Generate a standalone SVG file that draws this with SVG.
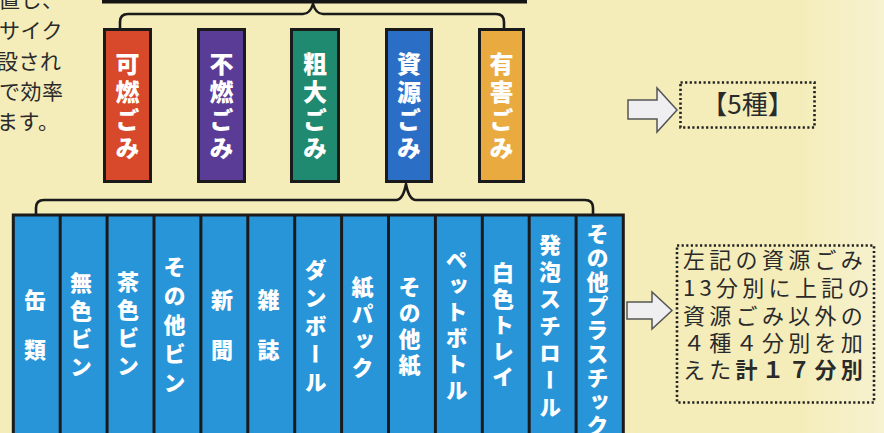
<svg xmlns="http://www.w3.org/2000/svg" width="884" height="433" viewBox="0 0 884 433">
<defs>
<linearGradient id="edge" x1="0" y1="0" x2="1" y2="0">
<stop offset="0" stop-color="#F8F3D6" stop-opacity="0"/>
<stop offset="1" stop-color="#F8F3D6" stop-opacity="0.8"/>
</linearGradient>
</defs>
<style>
.bg{fill:#F4EDBA}
.box{stroke:#1a1a1a;stroke-width:3}
.vt{font-family:"Noto Sans CJK JP","Noto Sans CJK SC",sans-serif;font-weight:900;fill:#ffffff;writing-mode:vertical-rl;text-anchor:start}
.top{font-size:24px;letter-spacing:4px}
.bot{font-size:22px}
.brace{fill:none;stroke:#1a1a1a;stroke-width:2.6;stroke-linejoin:round}
.arrow{fill:#EFEFF1;stroke:#555;stroke-width:1.5;stroke-linejoin:miter}
.dot{fill:none;stroke:#222;stroke-width:2.6;stroke-dasharray:2.2 2.4}
.txt{font-family:"Noto Sans CJK JP","Noto Sans CJK SC",sans-serif;fill:#2a2a2a}
</style>
<rect class="bg" x="0" y="0" width="884" height="433"/>
<rect x="800" y="0" width="84" height="433" fill="url(#edge)"/>

<g id="intro-text" class="txt" font-size="21" letter-spacing="0.5">
<text x="-1" y="7">置し、</text>
<text x="-1" y="38">サイク</text>
<text x="-3" y="69">設され</text>
<text x="-1" y="99">で効率</text>
<text x="-3" y="129">ます。</text>
</g>

<g id="header-bar"><rect x="102" y="-6" width="425" height="9.5" fill="#141414"/></g>

<g id="connectors">
<path class="brace" d="M120,29 V22 Q120,14 128,14 H303 Q310,14 313,4 Q316,14 323,14 H496 Q504,14 504,22 V29"/>
<path class="brace" d="M36,216 V208 Q36,200 44,200 H396 Q403,200 406,184 Q409,200 416,200 H585 Q593,200 593,208 V216"/>
<polygon class="arrow" points="628,100 657,100 657,88 677,110 657,132 657,119 628,119"/>
<polygon class="arrow" points="627,302 652,302 652,292 672,310.5 652,329 652,319 627,319"/>
</g>

<g id="kanen"><rect class="box" x="104.5" y="29.5" width="46" height="152" fill="#D8482A"/><text class="vt top" x="127.5" y="52">可燃ごみ</text></g>
<g id="funen"><rect class="box" x="198.5" y="29.5" width="46" height="152" fill="#5A3C96"/><text class="vt top" x="221.5" y="52">不燃ごみ</text></g>
<g id="sodai"><rect class="box" x="291.5" y="29.5" width="47" height="152" fill="#1F8A70"/><text class="vt top" x="315" y="52">粗大ごみ</text></g>
<g id="shigen"><rect class="box" x="386.5" y="29.5" width="45" height="152" fill="#2B6EC6"/><text class="vt top" x="409" y="52">資源ごみ</text></g>
<g id="yugai"><rect class="box" x="479.5" y="29.5" width="44" height="152" fill="#E9AA40"/><text class="vt top" x="501.5" y="52">有害ごみ</text></g>

<g id="shigen-13">
<rect class="box" x="13.3" y="215" width="610" height="230" fill="#2895D9"/>
<g stroke="#1a1a1a" stroke-width="3">
<line x1="60.2" y1="215" x2="60.2" y2="440"/><line x1="107.1" y1="215" x2="107.1" y2="440"/><line x1="154" y1="215" x2="154" y2="440"/><line x1="200.9" y1="215" x2="200.9" y2="440"/><line x1="247.8" y1="215" x2="247.8" y2="440"/><line x1="294.7" y1="215" x2="294.7" y2="440"/><line x1="341.6" y1="215" x2="341.6" y2="440"/><line x1="388.5" y1="215" x2="388.5" y2="440"/><line x1="435.4" y1="215" x2="435.4" y2="440"/><line x1="482.3" y1="215" x2="482.3" y2="440"/><line x1="529.2" y1="215" x2="529.2" y2="440"/><line x1="576.1" y1="215" x2="576.1" y2="440"/>
</g>
</g>
<g id="kanrui"><text class="vt bot" x="35" y="289" letter-spacing="28">缶類</text></g>
<g id="mushoku-bin"><text class="vt bot" x="81" y="272" letter-spacing="6">無色ビン</text></g>
<g id="chairo-bin"><text class="vt bot" x="128" y="271" letter-spacing="6">茶色ビン</text></g>
<g id="sonota-bin"><text class="vt bot" x="174.5" y="256" letter-spacing="7">その他ビン</text></g>
<g id="shinbun"><text class="vt bot" x="222" y="289" letter-spacing="28">新聞</text></g>
<g id="zasshi"><text class="vt bot" x="268.5" y="289" letter-spacing="28">雑誌</text></g>
<g id="danboru"><text class="vt bot" x="315.5" y="259" letter-spacing="6">ダンボール</text></g>
<g id="kamipack"><text class="vt bot" x="362.5" y="276" letter-spacing="5">紙パック</text></g>
<g id="sonota-kami"><text class="vt bot" x="409.5" y="276" letter-spacing="4">その他紙</text></g>
<g id="petbottle"><text class="vt bot" x="456.5" y="249" letter-spacing="4">ペットボトル</text></g>
<g id="hakushoku-tray"><text class="vt bot" x="503" y="262" letter-spacing="4">白色トレイ</text></g>
<g id="happo"><text class="vt bot" x="550" y="234" letter-spacing="5">発泡スチロール</text></g>
<g id="sonota-plastic"><text class="vt bot" x="597.5" y="222.5" font-size="21" letter-spacing="2">その他プラスチック</text></g>

<g id="five-kinds">
<rect class="dot" x="680.5" y="82.5" width="134" height="45"/>
<text class="txt" x="747.5" y="114" font-size="26" text-anchor="middle">【5種】</text>
</g>

<g id="total-17">
<rect class="dot" x="677" y="245.5" width="197" height="157"/>
<g class="txt" font-size="22" letter-spacing="4.3">
<text x="683" y="268">左記の資源ごみ</text>
<text x="683" y="296">13分別に上記の</text>
<text x="683" y="324">資源ごみ以外の</text>
<text x="683" y="351">４種４分別を加</text>
<text x="683" y="378">えた<tspan font-weight="700">計１７分別</tspan></text>
</g>
</g>
</svg>
